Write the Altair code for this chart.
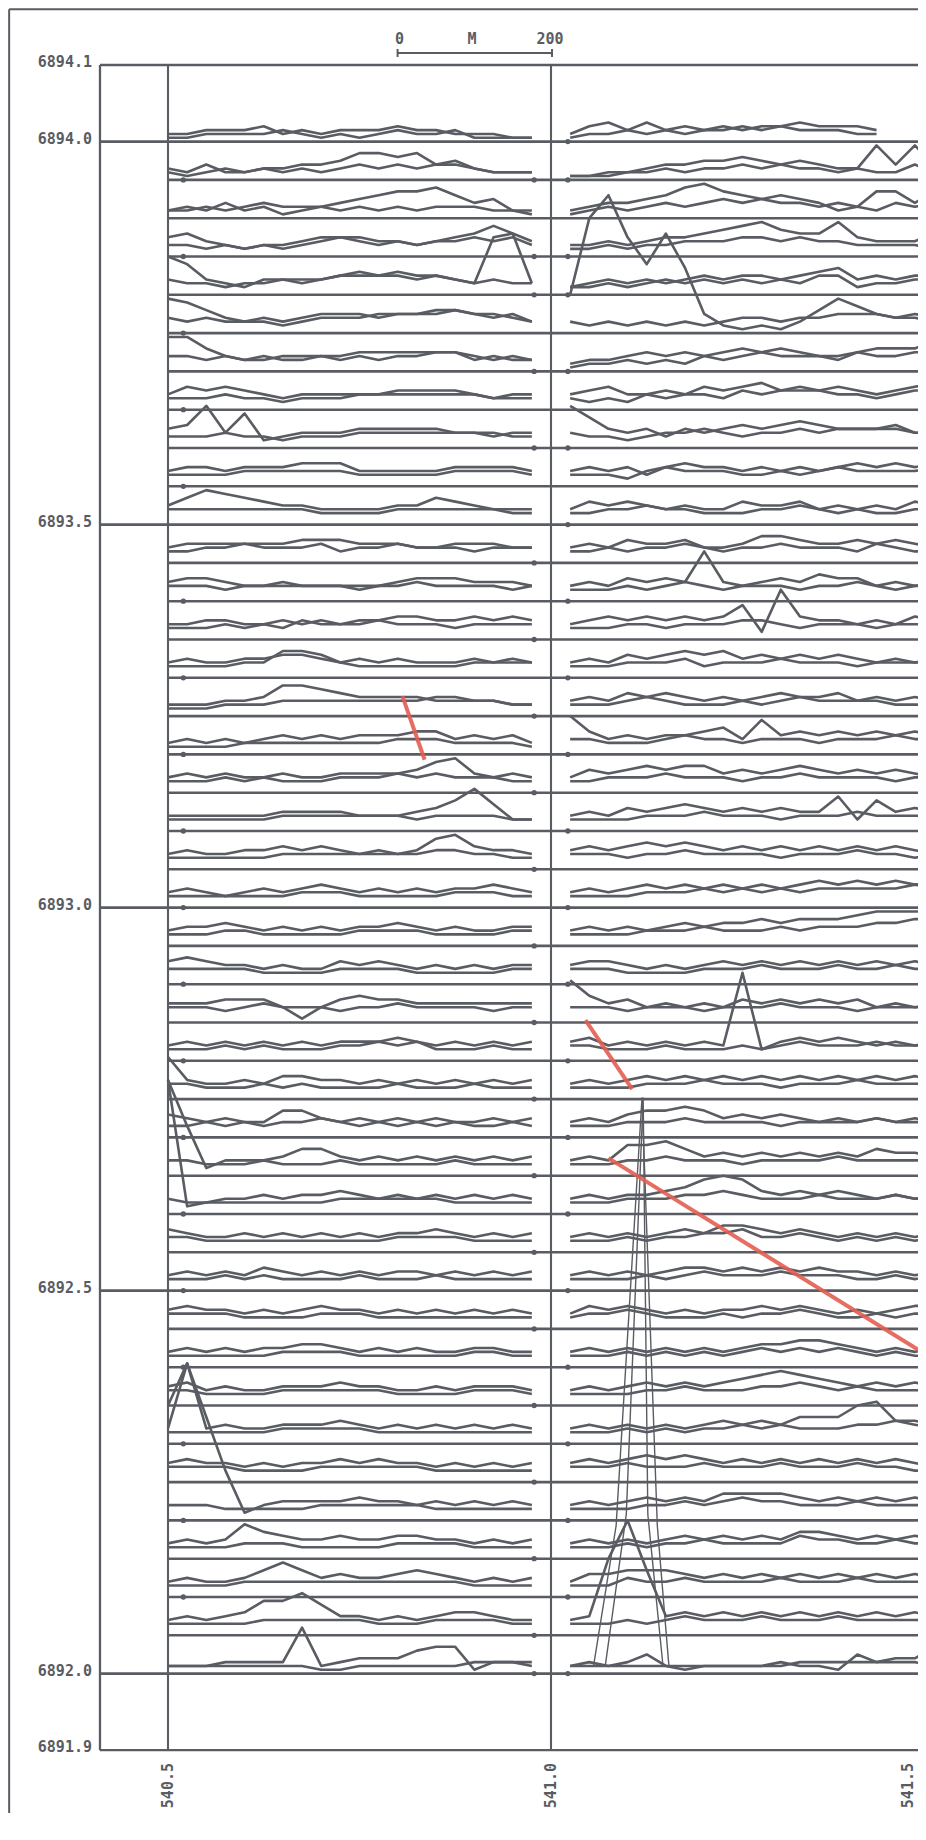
import altair as alt
import pandas as pd

GRAY = "#5a5c63"
RED = "#e35d50"
ALPH = "0123456789abcdefghijklmnopqrstuvwxyzABCDEFGHIJKLMNOPQRSTUVWXYZ"
UNIT_KM = 0.005  # one trace step = 5 m

W, H = 910, 1805
X0, X1 = 540.29112, 541.47911
Y0, Y1 = 6891.81802, 6894.17441

NORTHINGS = [6894.00, 6893.95, 6893.90, 6893.85, 6893.80, 6893.75, 6893.70, 6893.65,
             6893.60, 6893.55, 6893.50, 6893.45, 6893.40, 6893.35, 6893.30, 6893.25,
             6893.20, 6893.15, 6893.10, 6893.05, 6893.00, 6892.95, 6892.90, 6892.85,
             6892.80, 6892.75, 6892.70, 6892.65, 6892.60, 6892.55, 6892.50, 6892.45,
             6892.40, 6892.35, 6892.30, 6892.25, 6892.20, 6892.15, 6892.10, 6892.05,
             6892.00]

LEFT_X = [540.500, 540.525, 540.550, 540.575, 540.600, 540.625, 540.650, 540.675,
          540.700, 540.725, 540.750, 540.775, 540.800, 540.825, 540.850, 540.875,
          540.900, 540.925, 540.950, 540.975]
RIGHT_X = [541.025, 541.050, 541.075, 541.100, 541.125, 541.150, 541.175, 541.200,
           541.225, 541.250, 541.275, 541.300, 541.325, 541.350, 541.375, 541.400,
           541.425, 541.450, 541.475, 541.500]

LEFT_A = ["22333423233343322211", "32422334457767453222", "23242312345677864522", "56432323455443456864",
          "a8432443456554543fg3", "98643434555455665453", "99643344445555554343", "46565434444455554344",
          "56b49234445555544344", "45545556664444455554", "57987655444455765444", "45555556665554455544",
          "56654444444456665554", "44554454545566556565", "45445566545454445454", "33344588765555444433",
          "34343454545556645453", "45454454455556895454", "4444445555444568b733", "45445565654545896554",
          "45434545654545455654", "45565454545565454455", "67655454465654545455", "55566641467665555555",
          "45454545455565454545", "b5445466554545454545", "65454477545454544545", "pd244457754545454545",
          "z2344545565454545454", "65445454545455654545", "45454654545455454545", "56554545655454545454",
          "45454556654545445544", "56454455565544545554", "4l454455565454545454", "56554545565655454545",
          "uFrd2455556554545454", "45459765565566554545", "45445797565567654545", "4545699b855454566544",
          "2223333c234446771333"]
LEFT_B = ["11222232121232231111", "21232323234343443222", "22323433323232333221", "33232334554343445453",
          "43323344455565543433", "43433323444555565543", "44343433434344553433", "33343323334444444333",
          "33343323334444444433", "33334444443333344443", "44444444333344444433", "33445444534454443444",
          "44434454443445444434", "33343435444544434444", "33334477643333334444", "22233344444444554433",
          "22223333333344433332", "33343433344454544433", "33333344444443444433", "33333344444444554433",
          "33333334443333344433", "33344333334444333344", "44444333344443333344", "44434544434454444344",
          "33343433344545333433", "44333434333343334333", "33434344543434343343", "44333433343333343333",
          "43333333344444433333", "44333333333344443333", "33343433334333433333", "44443333444333333333",
          "33333344443333334433", "44333344444433334443", "33333344444333333333", "44443333444444333333",
          "44433333444444333333", "33334443333344443333", "33334444444444443333", "33333444444333444433",
          "22222222112222223332"]
RIGHT_A = ["24535343434454443...", "11223445565454339494", "23445689765654237747", "33434556789766954446",
           "23434345455456745455", "auApiqh5212136975454", "23345454565654456668", "45644546567565654567",
           "b8545354565676555644", "45453565545454565656", "46565454465564545465", "45465564457765565654",
           "4546565d545657664545", "45656565692d65545465", "45465676756565654545", "45465654545655645454",
           "a6454556749565656565", "46567677565676565654", "45465676565655938565", "56567676565656565654",
           "45456565656567676767", "45454565667677789999", "56654545656565656565", "b7564545465656564545",
           "564545454n3565654545", "45456565656565656565", "45467787565654545454", "45488975656565657665",
           "45455679a96565654545", "45454565776565454545", "45454566565656554545", "46565454556565454566",
           "45454545456677654545", "45456565678987656565", "454545456565777ab665", "56567676565656565654",
           "45456565777765656565", "45454565656577656565", "46677765656565656565", "45kuh565656565656565",
           "23235212222322153447"]
RIGHT_B = ["12232323343433322...", "11122323343433232242", "12323434545443432434", "22323344455454433332",
           "22323434343435523344", "32323232344344555443", "12232324345444354455", "32324344354555443455",
           "43323445434454555544", "33324544433434544445", "33445443334454343344", "33434454344544435433",
           "33343454344434454344", "33344344455434443444", "33344453444544434444", "33345433343454444333",
           "44333454434443444544", "33444544434454444344", "33334445444344454444", "44434454444344454434",
           "33334445454545555565", "33334445444545556677", "44433334445444544544", "44434443444544434444",
           "44333433343454445444", "33334445444344454444", "33344454444344445444", "33344544434444544444",
           "33344455654445444544", "33343445564454343434", "33334345444544433434", "34454333434454334344",
           "33343434345454543433", "33334454445565454444", "33343434454544455654", "44454445444544454433",
           "33334454565544454444", "33343445444465544544", "33354454444544454444", "33343454445444544444",
           "22222222222233333332"]

# tall narrow anomaly rising from the 6892.00 line (heights in metres)
SPIKE1_X = [541.0554, 541.0850, 541.1188, 541.1388, 541.1540]
SPIKE1_M = [9, 193, 752, 193, 9]
SPIKE2_X = [541.0707, 541.0983, 541.1203, 541.1264, 541.1463]
SPIKE2_M = [9, 208, 752, 208, 9]

# red interpretation lines
RED_X = [[540.806, 540.835], [541.045, 541.106], [541.075, 541.550]]
RED_Y = [[6893.276, 6893.193], [6892.853, 6892.763], [6892.673, 6892.379]]

# small station dots on the lines (line index lists)
DOT_LEFT_START = [1, 3, 5, 7, 9, 12, 14, 16, 18, 20, 22, 24, 26, 28, 30, 32, 34, 36, 38]
DOT_LEFT_END = [1, 3, 4, 6, 8, 11, 13, 15, 17, 19, 21, 23, 25, 27, 29, 31, 33, 35, 37, 39, 40]
DOT_RIGHT_START = [0, 1, 3, 4, 6, 8, 10, 12, 14, 16, 18, 20, 22, 24, 26, 28, 30, 32, 34, 36, 38, 40]
DOT_X = [540.520, 540.978, 541.022]

Y_LABELS = [6894.1, 6894.0, 6893.5, 6893.0, 6892.5, 6892.0, 6891.9]
X_GRID = [540.5, 541.0]
X_LABELS = ["540.5", "541.0", "541.5"]
X_LABEL_POS = [540.5, 541.0, 541.4661]
LABEL_COL_X = 540.4112
SCALE_BAR = [540.7997, 541.0013]
SCALE_TEXT = ["0", "M", "200"]
SCALE_TEXT_X = [540.8022, 540.8969, 540.9987]


def dec(s):
    s = (s + "." * 20)[:20]
    return [None if c not in ALPH else ALPH.index(c) for c in s]


xs = alt.Scale(domain=[X0, X1], nice=False, zero=False)
ys = alt.Scale(domain=[Y0, Y1], nice=False, zero=False)

rows = []
for i, n in enumerate(NORTHINGS):
    for seg, sx, groups in (("L", LEFT_X, (LEFT_A, LEFT_B)), ("R", RIGHT_X, (RIGHT_A, RIGHT_B))):
        for t, arr in enumerate(groups):
            vals = dec(arr[i])
            for k, (x, v) in enumerate(zip(sx, vals)):
                if v is None:
                    continue
                rows.append({"id": f"{i}{seg}{t}", "x": x, "y": n + v * UNIT_KM, "k": k})
traces = pd.DataFrame(rows)

sp = []
for j, (xx, mm) in enumerate(((SPIKE1_X, SPIKE1_M), (SPIKE2_X, SPIKE2_M))):
    for k, (x, m) in enumerate(zip(xx, mm)):
        sp.append({"id": f"s{j}", "x": x, "y": NORTHINGS[-1] + m / 1000.0, "k": k})
spikes = pd.DataFrame(sp)

rd = []
for j, (xx, yy) in enumerate(zip(RED_X, RED_Y)):
    for k, (x, y) in enumerate(zip(xx, yy)):
        rd.append({"id": f"r{j}", "x": x, "y": y, "k": k})
reds = pd.DataFrame(rd)

dots = []
for xv, lst in zip(DOT_X, (DOT_LEFT_START, DOT_LEFT_END, DOT_RIGHT_START)):
    for i in lst:
        dots.append({"x": xv, "y": NORTHINGS[i]})
dotdf = pd.DataFrame(dots)

segs = []
top, bot = Y_LABELS[0], Y_LABELS[-1]
right = X1 + 0.2
segs.append({"x": LABEL_COL_X, "x2": right, "y": top, "y2": top, "w": 2.3})
segs.append({"x": LABEL_COL_X, "x2": right, "y": bot, "y2": bot, "w": 2.3})
segs.append({"x": LABEL_COL_X, "x2": LABEL_COL_X, "y": bot, "y2": top, "w": 2.3})
for xv in X_GRID:
    segs.append({"x": xv, "x2": xv, "y": bot, "y2": top, "w": 2.1})
for n in NORTHINGS:
    x_start = LABEL_COL_X if n in Y_LABELS else X_GRID[0]
    segs.append({"x": x_start, "x2": right, "y": n, "y2": n, "w": 2.6})
segs.append({"x": SCALE_BAR[0], "x2": SCALE_BAR[1], "y": 6894.1157, "y2": 6894.1157, "w": 2})
segs.append({"x": SCALE_BAR[0], "x2": SCALE_BAR[0], "y": 6894.1105, "y2": 6894.1209, "w": 2})
segs.append({"x": SCALE_BAR[1], "x2": SCALE_BAR[1], "y": 6894.1105, "y2": 6894.1209, "w": 2})
segs.append({"x": X0 + 0.0015, "x2": right, "y": Y1 - 0.0015, "y2": Y1 - 0.0015, "w": 2})
segs.append({"x": X0 + 0.0015, "x2": X0 + 0.0015, "y": Y0 - 0.1, "y2": Y1 - 0.0015, "w": 2})
segdf = pd.DataFrame(segs)

X = lambda f: alt.X(f, scale=xs, axis=None)
Y = lambda f: alt.Y(f, scale=ys, axis=None)

rules = alt.Chart(segdf).mark_rule(color=GRAY).encode(
    x=X("x:Q"), x2="x2:Q", y=Y("y:Q"), y2="y2:Q",
    strokeWidth=alt.StrokeWidth("w:Q", scale=None, legend=None))

lines = alt.Chart(traces).mark_line(color=GRAY, strokeWidth=2.6, strokeJoin="round", clip=True).encode(
    x=X("x:Q"), y=Y("y:Q"), detail="id:N", order="k:Q")

spike_lines = alt.Chart(spikes).mark_line(color=GRAY, strokeWidth=1.4, clip=True).encode(
    x=X("x:Q"), y=Y("y:Q"), detail="id:N", order="k:Q")

red_lines = alt.Chart(reds).mark_line(color=RED, strokeWidth=4, opacity=0.9, clip=True).encode(
    x=X("x:Q"), y=Y("y:Q"), detail="id:N", order="k:Q")

dot_marks = alt.Chart(dotdf).mark_circle(color=GRAY, size=28, opacity=1).encode(
    x=X("x:Q"), y=Y("y:Q"))

ylab = pd.DataFrame({"y": Y_LABELS, "t": [f"{v:.1f}" for v in Y_LABELS]})
ytext = alt.Chart(ylab).mark_text(align="right", baseline="middle", dy=-3, font="DejaVu Sans Mono",
                                  fontWeight="bold", fontSize=15, color=GRAY).encode(
    x=alt.value(84), y=Y("y:Q"), text="t:N")

xlab = pd.DataFrame({"x": X_LABEL_POS, "t": X_LABELS})
xtext = alt.Chart(xlab).mark_text(align="right", baseline="middle", angle=270, font="DejaVu Sans Mono",
                                  fontWeight="bold", fontSize=15, color=GRAY).encode(
    x=X("x:Q"), y=alt.value(1755), text="t:N")

stext = alt.Chart(pd.DataFrame({"x": SCALE_TEXT_X, "t": SCALE_TEXT})).mark_text(
    align="center", baseline="middle", font="DejaVu Sans Mono", fontWeight="bold", fontSize=15,
    color=GRAY).encode(x=X("x:Q"), y=alt.value(31), text="t:N")

chart = alt.layer(rules, lines, spike_lines, red_lines, dot_marks, ytext, xtext, stext).properties(
    width=W, height=H, autosize=alt.AutoSizeParams(type="none"), padding=0
).configure_view(stroke=None)

chart.save("out.html", embed_options={"renderer": "svg", "actions": False})
